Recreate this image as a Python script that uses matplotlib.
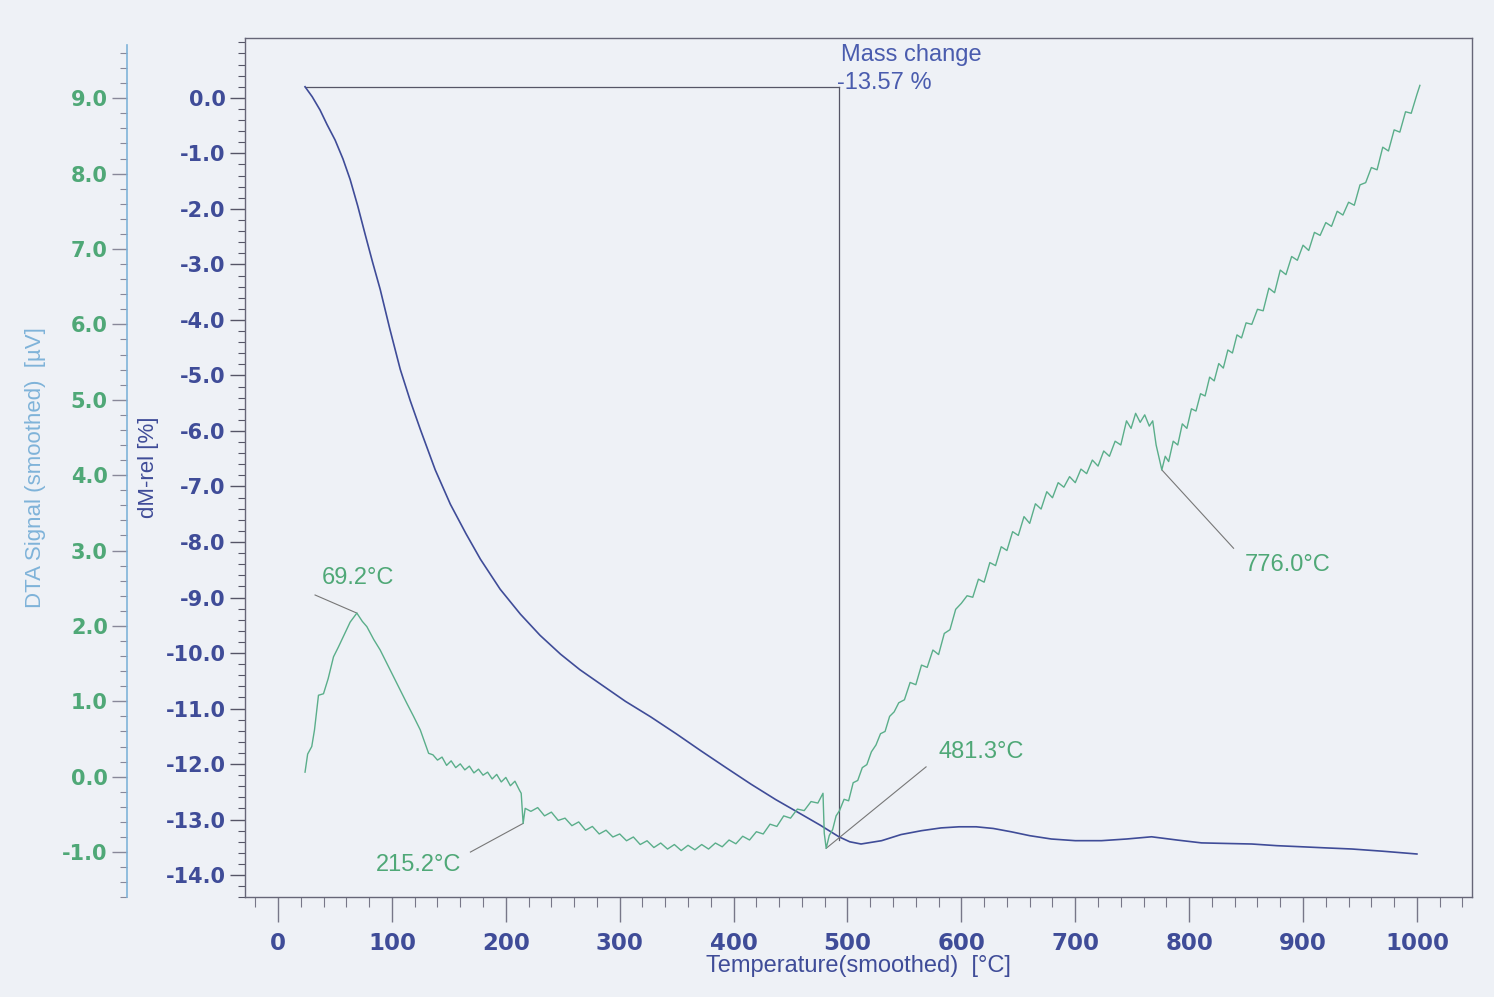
import numpy as np
import matplotlib.pyplot as plt

# TG curve: relative mass change vs temperature
tg_temp = [23.7, 30, 36.9, 43, 50.1, 57, 63.3, 70, 76.5, 83, 89.7, 98, 107.3, 116, 124.9, 138,
           151.3, 165, 177.7, 195, 212.8, 230, 248.0, 265, 283.2, 305, 327.2, 350, 371.2, 393,
           415.1, 437, 459.1, 476, 492.5, 502, 511.9, 530, 547.0, 565, 582.2, 598, 613.0, 628,
           643.8, 660, 679.0, 700, 723.0, 745, 767.0, 790, 810.9, 832, 854.9, 877, 898.9, 920,
           942.8, 970, 1000]
tg_dm = [0.20, 0.02, -0.22, -0.48, -0.76, -1.10, -1.47, -1.95, -2.46, -2.96, -3.45, -4.15, -4.89,
         -5.45, -5.97, -6.70, -7.32, -7.85, -8.31, -8.85, -9.30, -9.68, -10.02, -10.30, -10.56,
         -10.87, -11.15, -11.46, -11.76, -12.06, -12.36, -12.64, -12.90, -13.10, -13.31, -13.40,
         -13.44, -13.38, -13.27, -13.20, -13.15, -13.13, -13.13, -13.16, -13.22, -13.29, -13.35,
         -13.38, -13.38, -13.35, -13.31, -13.37, -13.42, -13.43, -13.44, -13.47, -13.49, -13.51,
         -13.53, -13.57, -13.62]

# DTA signal vs temperature
dta_temp = [23.7, 26, 29.6, 32, 35.5, 39.9, 44, 48.7, 53, 57.4, 63.3, 69.2, 74, 78, 84, 89.7, 95,
            101.4, 107, 113.2, 119, 124.9, 132.2,
            136, 140, 144, 148, 152, 156, 160, 164, 168, 172, 176, 180, 184, 188, 192, 196, 200,
            204, 208, 212, 213.5, 215.2, 217,
            222, 228, 234, 240, 246, 252, 258, 264, 270, 276, 282, 288, 294, 300, 306, 312, 318,
            324, 330, 336, 342, 348, 354, 360, 366, 372, 378, 384, 390, 396, 402, 408, 414, 420,
            426, 432, 438, 444, 450, 456, 462, 468, 474, 478.5,
            479.6, 481.3, 484, 487, 490, 493, 497, 501, 505, 509, 513, 517, 521, 525, 529, 533,
            537, 541,
            545, 550, 555, 560, 565, 570, 575, 580, 585, 590, 595, 600, 605, 610, 615, 620, 625,
            630, 635, 640, 645, 650, 655, 660, 665, 670, 675, 680, 685, 690, 695, 700, 705, 710,
            715, 720, 725, 730, 735, 740, 745, 749, 753, 757, 761, 765, 768, 771, 774, 776, 779,
            782, 786, 790, 794, 798, 802, 806, 810, 814, 818, 822, 826, 830, 834, 838, 842, 846,
            850, 855, 860, 865, 870, 875, 880, 885, 890, 895, 900, 905, 910, 915, 920, 925, 930,
            935, 940, 945, 950, 955, 960, 965, 970, 975, 980, 985, 990, 995, 1000, 1002.6]
dta_uv = [0.06, 0.30, 0.40, 0.62, 1.08, 1.10, 1.30, 1.59, 1.72, 1.86, 2.05, 2.17, 2.06, 1.99, 1.82,
          1.68, 1.52, 1.33, 1.16, 0.97, 0.80, 0.62, 0.31,
          0.29, 0.22, 0.26, 0.15, 0.21, 0.12, 0.17, 0.09, 0.14, 0.05, 0.10, 0.02, 0.06, -0.03,
          0.03, -0.07, -0.01, -0.12, -0.06, -0.18, -0.22, -0.62, -0.42,
          -0.46, -0.41, -0.52, -0.47, -0.58, -0.55, -0.65, -0.60, -0.71, -0.66, -0.76, -0.71,
          -0.80, -0.76, -0.85, -0.80, -0.90, -0.85, -0.94, -0.88, -0.96, -0.90, -0.98, -0.91,
          -0.97, -0.90, -0.96, -0.88, -0.93, -0.84, -0.89, -0.79, -0.84, -0.73, -0.76, -0.63,
          -0.66, -0.52, -0.55, -0.43, -0.45, -0.33, -0.35, -0.22,
          -0.75, -0.95, -0.78, -0.70, -0.52, -0.45, -0.30, -0.32, -0.08, -0.05, 0.12, 0.16, 0.33,
          0.42, 0.57, 0.60, 0.80, 0.86,
          0.98, 1.02, 1.25, 1.22, 1.48, 1.45, 1.68, 1.62, 1.90, 1.95, 2.22, 2.30, 2.40, 2.38,
          2.62, 2.58, 2.84, 2.80, 3.05, 3.00, 3.25, 3.20, 3.45, 3.36, 3.62, 3.55, 3.78, 3.70,
          3.90, 3.84, 3.98, 3.90, 4.08, 4.02, 4.20, 4.12, 4.32, 4.25, 4.45, 4.40, 4.72, 4.62,
          4.82, 4.70, 4.80, 4.65, 4.72, 4.40, 4.20, 4.07, 4.25, 4.18, 4.45, 4.40, 4.68, 4.62,
          4.88, 4.85, 5.08, 5.05, 5.30, 5.25, 5.48, 5.42, 5.66, 5.62, 5.86, 5.82, 6.02, 6.00,
          6.20, 6.18, 6.48, 6.42, 6.72, 6.66, 6.90, 6.85, 7.05, 6.98, 7.22, 7.18, 7.35, 7.30,
          7.50, 7.45, 7.62, 7.58, 7.85, 7.88, 8.08, 8.05, 8.35, 8.30, 8.58, 8.55, 8.82, 8.80,
          9.05, 9.17]

# peak labels: temperature, DTA value, label
peak_temp = [69.2, 215.2, 481.3, 776.0]
peak_uv = [2.17, -0.62, -0.95, 4.07]
peak_text = ['69.2°C', '215.2°C', '481.3°C', '776.0°C']

mass_change = -13.57
mass_step_temp = 492.5

bg = '#eef1f6'
blue = '#3f4c98'
green = '#5aae8a'
green_txt = '#4fa877'
lightblue = '#7fb3d9'

fig = plt.figure(figsize=(14.94, 9.97), dpi=100, facecolor=bg)
ax = fig.add_axes([0.164, 0.100, 0.821, 0.862], facecolor=bg)

ax.plot(tg_temp, tg_dm, color=blue, lw=1.2, zorder=3)

# mass change marker lines
m0 = tg_dm[0]
ax.plot([tg_temp[0], mass_step_temp], [m0, m0], color='#555566', lw=0.9)
ax.plot([mass_step_temp, mass_step_temp], [m0, m0 + mass_change], color='#555566', lw=0.9)
ax.text(mass_step_temp + 1.5, 0.77, 'Mass change', color='#4a5cae', fontsize=17,
        family='Liberation Sans', va='center')
ax.text(mass_step_temp - 2, 0.27, f'{mass_change:.2f} %', color='#4a5cae', fontsize=17,
        family='Liberation Sans', va='center')

ax.set_xlim(-29, 1048)
ax.set_ylim(-14.36, 1.08)
ax.set_xticks(np.arange(0, 1001, 100))
ax.set_xticks(np.arange(-20, 1041, 20), minor=True)
ax.set_yticks(np.arange(-14, 0.5, 1))
ax.set_yticks(np.arange(-14.4, 1.1, 0.2), minor=True)
ax.set_yticklabels([f'{v:.1f}' for v in np.arange(-14, 0.5, 1)])
ax.tick_params(axis='x', which='major', direction='out', length=18, width=1, color='#777788',
               labelsize=16.5, labelcolor=blue, pad=7)
ax.tick_params(axis='x', which='minor', direction='out', length=7, width=0.8, color='#777788')
ax.tick_params(axis='y', which='major', direction='out', length=11, width=1, color='#555566',
               labelsize=15, labelcolor=blue, pad=3)
ax.tick_params(axis='y', which='minor', direction='out', length=5, width=0.8, color='#555566')
for t in ax.get_xticklabels() + ax.get_yticklabels():
    t.set_fontweight('bold')
for s in ax.spines.values():
    s.set_color('#666677')
    s.set_linewidth(1.0)
ax.set_xlabel('Temperature(smoothed)  [°C]', fontsize=17, color=blue, family='Liberation Sans',
              labelpad=0)
ax.set_ylabel('dM-rel [%]', fontsize=16, color=blue, family='Liberation Sans', labelpad=5)

# DTA axis on a second spine further left
ax2 = ax.twinx()
ax2.yaxis.set_label_position('left')
ax2.yaxis.tick_left()
ax2.spines['left'].set_position(('axes', -0.096))
ax2.spines['left'].set_color(lightblue)
ax2.spines['left'].set_linewidth(1.2)
ax2.spines['left'].set_bounds(-1.6, 9.7)
for side in ['right', 'top', 'bottom']:
    ax2.spines[side].set_visible(False)
ax2.set_ylim(-1.6, 9.8)
ax2.set_yticks(np.arange(-1, 9.5, 1))
ax2.set_yticks(np.arange(-1.6, 9.8, 0.2), minor=True)
ax2.set_yticklabels([f'{v:.1f}' for v in np.arange(-1, 9.5, 1)])
ax2.tick_params(axis='y', which='major', direction='out', length=11, width=1, color='#888899',
                labelsize=15, labelcolor=green_txt, pad=3)
ax2.tick_params(axis='y', which='minor', direction='out', length=5, width=0.8, color='#888899')
for t in ax2.get_yticklabels():
    t.set_fontweight('bold')
ax2.set_ylabel('DTA Signal (smoothed)  [µV]', fontsize=16, color=lightblue,
               family='Liberation Sans', labelpad=12)

ax2.plot(dta_temp, dta_uv, color=green, lw=1.0, zorder=3)

# leader lines and peak temperatures
lead_from = [(32.5, 2.41), (168.9, -1.0), (569.0, 0.13), (839.0, 3.03)]
text_at = [(38.7, 2.63, 'left'), (123.0, -1.17, 'center'), (579.6, 0.33, 'left'),
           (848.7, 2.81, 'left')]
for T, v, lab, (lx, ly), (tx, ty, ha) in zip(peak_temp, peak_uv, peak_text, lead_from, text_at):
    ax2.plot([lx, T], [ly, v], color='#777777', lw=0.8, zorder=2)
    ax2.text(tx, ty, lab, color=green_txt, fontsize=17, family='Liberation Sans',
             ha=ha, va='center')

fig.savefig('out.png', dpi=100, facecolor=bg)
